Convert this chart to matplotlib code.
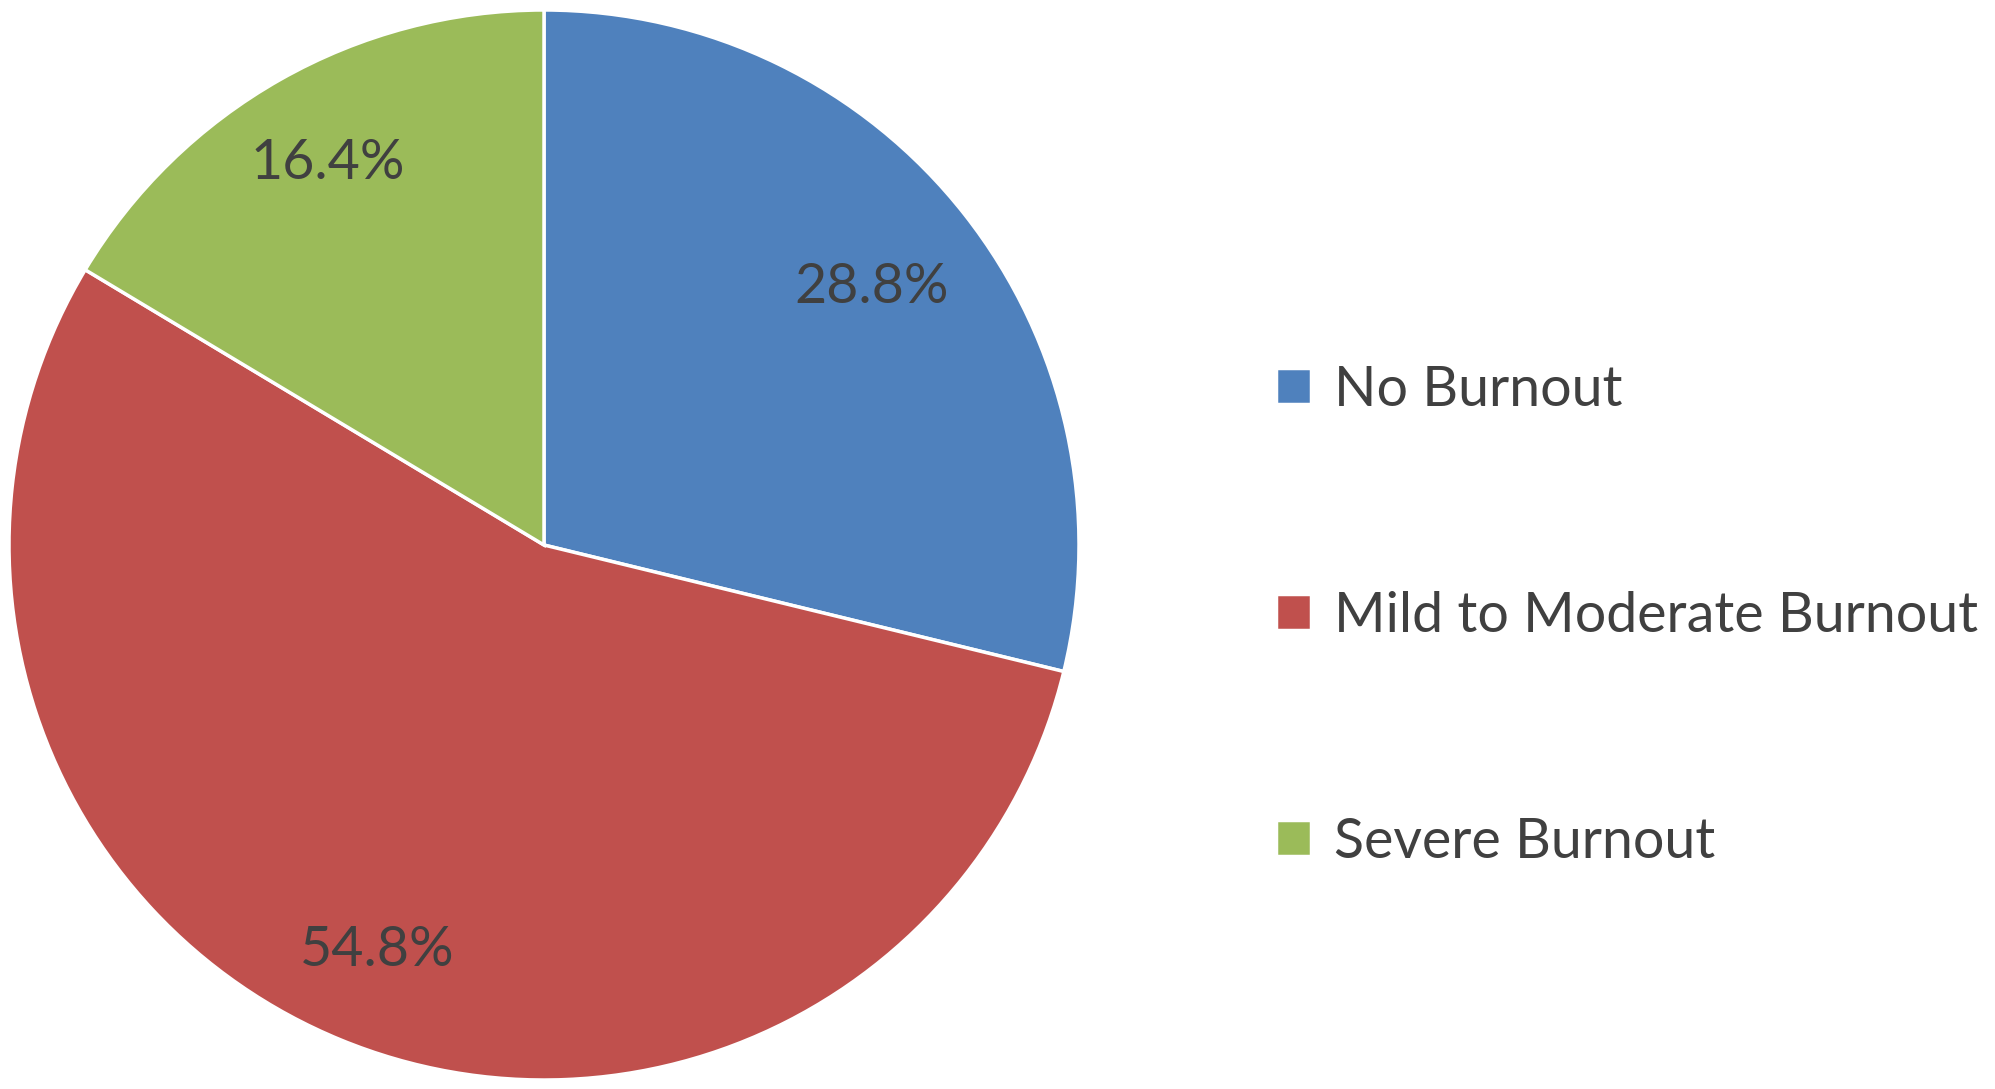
import matplotlib.pyplot as plt

# Datos del gráfico
categorias = ['No Burnout', 'Mild to Moderate Burnout', 'Severe Burnout']
porcentajes = [28.8, 54.8, 16.4]
colores = ['#4F81BD', '#C0504D', '#9BBB59']

plt.rcParams['font.family'] = ['Lato', 'DejaVu Sans']

W, H = 1995, 1089
fig = plt.figure(figsize=(W / 100, H / 100), dpi=100)

# Ejes para el pastel (centro ~ (545, 545) px, radio ~ 535 px)
cx, cy, r = 544, 545, 535
ax = fig.add_axes([(cx - r) / W, (H - cy - r) / H, 2 * r / W, 2 * r / H])

wedges, textos, autotextos = ax.pie(
    porcentajes, colors=colores, startangle=90, counterclock=False,
    autopct='%.1f%%', pctdistance=0.82,
    wedgeprops=dict(edgecolor='white', linewidth=2.5),
    textprops=dict(color='#404040', fontsize=40),
)
# la etiqueta azul va un poco más adentro
x0, y0 = autotextos[0].get_position()
autotextos[0].set_position((x0 * 0.78 / 0.82, y0 * 0.78 / 0.82))

ax.set_xlim(-1, 1)
ax.set_ylim(-1, 1)
ax.set_aspect('equal')

fig.legend(wedges, categorias, loc='center left',
           bbox_to_anchor=(1276 / W, 1 - 616 / H),
           frameon=False, fontsize=40, labelcolor='#404040',
           handlelength=0.63, handleheight=0.61, handletextpad=0.42,
           labelspacing=3.15, borderpad=0, borderaxespad=0)

fig.savefig('out.png', dpi=100, facecolor='white')
